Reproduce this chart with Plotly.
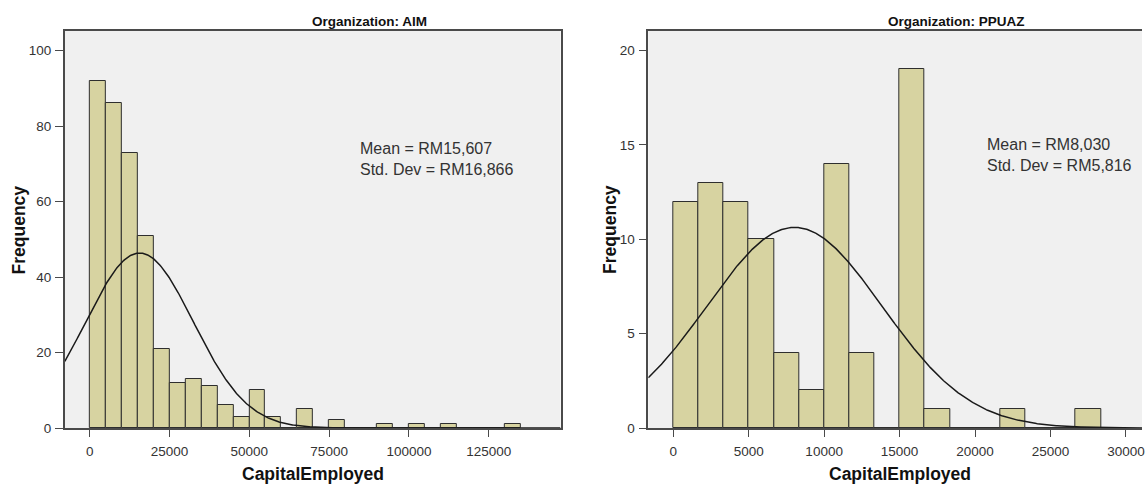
import numpy as np
import plotly.graph_objects as go

# ---------------- data ----------------
aim_bin_width = 5000
aim_bin_start = 0
aim_counts = [92, 86, 73, 51, 21, 12, 13, 11, 6, 3, 10, 3, 0, 5, 0, 2, 0, 0,
              1, 0, 1, 0, 1, 0, 0, 0, 1]
aim_mean = 15607
aim_sd = 16866

ppuaz_bin_width = 30000 / 18
ppuaz_bin_start = 0
ppuaz_counts = [12, 13, 12, 10, 4, 2, 14, 4, 0, 19, 1, 0, 0, 1, 0, 0, 1]
ppuaz_mean = 8030
ppuaz_sd = 5816

aim_ticks = [0, 25000, 50000, 75000, 100000, 125000]
aim_yticks = [0, 20, 40, 60, 80, 100]
ppuaz_ticks = [0, 5000, 10000, 15000, 20000, 25000, 30000]
ppuaz_yticks = [0, 5, 10, 15, 20]

titles = ["Organization: AIM", "Organization: PPUAZ"]
stats_text = ["Mean = RM15,607<br>Std. Dev = RM16,866",
              "Mean = RM8,030<br>Std. Dev = RM5,816"]

# ---------------- layout geometry ----------------
W, H = 1145, 484
PT, PB = 31, 428          # plot top / bottom (px)
L1, R1 = 65, 562          # left panel
L2 = 650                  # right panel left edge
FONT = "Liberation Sans, Arial, sans-serif"
BAR = "#d7d3a1"
BG = "#f0f0f0"
FRAME = "#4a4a4a"

aim_range = [-7812, 147500]
ppuaz_range = [-1652, 31063]


def px(x):
    return x / W


def py(y):
    return (PB - y) / (PB - PT)


fig = go.Figure()


def add_panel(counts, start, width, mean, sd, xr, xa, ya):
    n = sum(counts)
    starts = [start + i * width for i in range(len(counts))]
    fig.add_trace(go.Bar(
        x=starts, y=counts, width=width, offset=0,
        marker=dict(color=BAR, line=dict(color="#2e2e2e", width=1)),
        xaxis=xa, yaxis=ya, showlegend=False, hoverinfo="skip"))
    xs = np.linspace(xr[0], xr[1], 600)
    ys = n * width / (sd * np.sqrt(2 * np.pi)) * np.exp(-0.5 * ((xs - mean) / sd) ** 2)
    fig.add_trace(go.Scatter(
        x=xs, y=ys, mode="lines", line=dict(color="#1a1a1a", width=1.5),
        xaxis=xa, yaxis=ya, showlegend=False, hoverinfo="skip"))


add_panel(aim_counts, aim_bin_start, aim_bin_width, aim_mean, aim_sd, aim_range, "x", "y")
add_panel(ppuaz_counts, ppuaz_bin_start, ppuaz_bin_width, ppuaz_mean, ppuaz_sd, ppuaz_range, "x2", "y2")

tickfont = dict(family=FONT, size=13.5, color="#333333")
common_x = dict(showline=True, linecolor=FRAME, linewidth=1.5, ticks="outside",
                ticklen=7, tickcolor=FRAME, tickwidth=1.2, showgrid=False,
                zeroline=False, tickfont=tickfont, ticklabelstandoff=3,
                tickformat="d", ticklabeloverflow="allow")
common_y = dict(showline=True, linecolor=FRAME, linewidth=1.5, ticks="outside",
                ticklen=8, tickcolor=FRAME, tickwidth=1.2, showgrid=False,
                zeroline=False, tickfont=tickfont, ticklabelstandoff=1,
                tickformat="d")

fig.update_layout(
    width=W, height=H,
    margin=dict(l=0, r=0, t=PT, b=H - PB),
    paper_bgcolor="white",
    plot_bgcolor=BG,
    bargap=0,
    font=dict(family=FONT, color="#222222"),
    xaxis=dict(domain=[px(L1), px(R1)], range=aim_range, tickvals=aim_ticks,
               mirror=True, anchor="y", **common_x),
    yaxis=dict(domain=[0, 1], range=[0, 105.2], tickvals=aim_yticks,
               mirror=True, anchor="x", **common_y),
    xaxis2=dict(domain=[px(L2), 1], range=ppuaz_range, tickvals=ppuaz_ticks,
                mirror=True, anchor="y2", **common_x),
    yaxis2=dict(domain=[0, 1], range=[0, 21.04], tickvals=ppuaz_yticks,
                mirror=False, anchor="x2", **common_y),
)

ann = []
# panel titles
for txt, cx in zip(titles, [370, 959]):
    ann.append(dict(text="<b>" + txt + "</b>", x=px(cx), y=py(21), xref="paper", yref="paper",
                    xanchor="center", yanchor="middle", showarrow=False,
                    font=dict(family=FONT, size=13.5, color="#111111")))
# stats
for txt, lx, cy in zip(stats_text, [359, 988], [158.7, 155]):
    ann.append(dict(text=txt, x=px(lx), y=py(cy), xref="paper", yref="paper",
                    xanchor="left", yanchor="middle", align="left", showarrow=False,
                    font=dict(family=FONT, size=16, color="#333333")))
# axis titles
for cx in [313.5, 902]:
    ann.append(dict(text="<b>CapitalEmployed</b>", x=px(cx), y=py(474), xref="paper", yref="paper",
                    xanchor="center", yanchor="middle", showarrow=False,
                    font=dict(family=FONT, size=17.5, color="#111111")))
for cx in [19, 611]:
    ann.append(dict(text="<b>Frequency</b>", x=px(cx), y=py(229.5), xref="paper", yref="paper",
                    xanchor="center", yanchor="middle", showarrow=False, textangle=-90,
                    font=dict(family=FONT, size=17.5, color="#111111")))
fig.update_layout(annotations=ann)

fig.write_html("out.html",
               config={"displayModeBar": False},
               post_script="document.body.style.margin='0px';"
                           "document.body.style.overflow='hidden';")
